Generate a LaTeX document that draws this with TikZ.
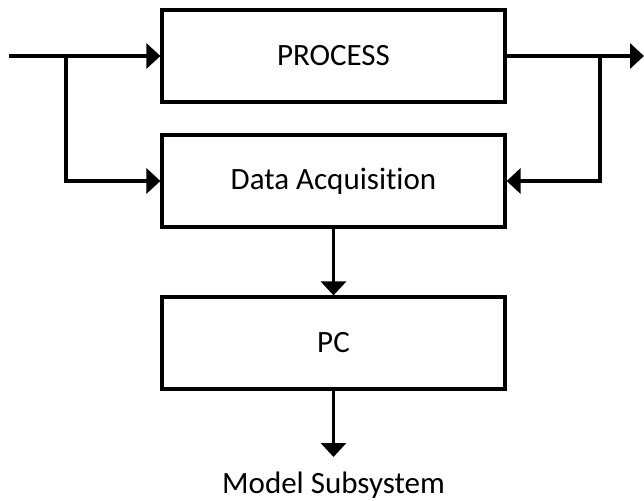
\documentclass[tikz,border=0pt]{standalone}
\usepackage{fontspec}
\setmainfont{Carlito}[Ligatures=NoCommon]
\usetikzlibrary{arrows.meta}

\begin{document}
\begin{tikzpicture}[x=1pt, y=-1pt, line width=3.2pt,
    block/.style={draw, rectangle, minimum width=343pt, minimum height=92pt, inner sep=0pt, font=\fontsize{31}{36}\selectfont},
    flow/.style={-{Triangle[length=14pt,width=25pt]}}]
    \useasboundingbox (0,0) rectangle (644,500);

    % Blocks
    \node[block] (process) at (333.5, 56) {PROCESS};
    \node[block] (daq) at (333.5, 181) {Data Acquisition};
    \node[block] (pc) at (333.5, 343) {PC};
    \node[anchor=north, inner xsep=2pt, inner ysep=13pt, font=\fontsize{31}{36}\selectfont] (model) at (333.5, 457) {Model Subsystem};

    % Input and output ends
    \coordinate (in) at (9, 56);
    \coordinate (jleft) at (66, 56);
    \coordinate (jright) at (600, 56);
    \coordinate (out) at (644, 56);

    % Arrows
    \draw[flow] (in) -- (process.west);
    \draw[flow] (jleft) |- (daq.west);
    \draw[flow] (process.east) -- (out);
    \draw[flow] (jright) |- (daq.east);
    \draw[flow] (daq.south) -- (pc.north);
    \draw[flow] (pc.south) -- (model.north);
\end{tikzpicture}
\end{document}
